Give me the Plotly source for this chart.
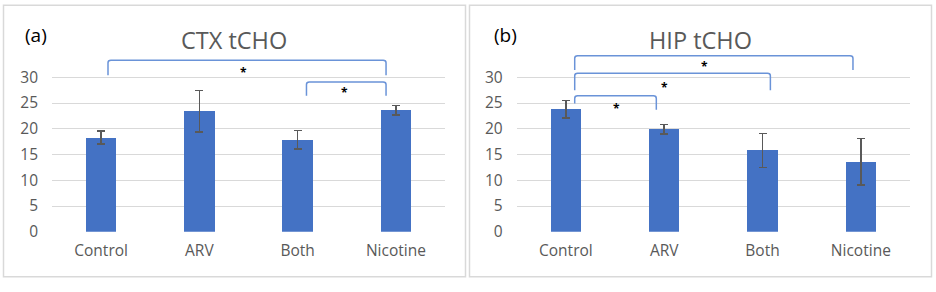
import plotly.graph_objects as go

# ---------------- data ----------------
categories = ["Control", "ARV", "Both", "Nicotine"]

ctx_values = [18.3, 23.4, 17.9, 23.6]
ctx_errors = [1.3, 4.0, 1.8, 0.9]

hip_values = [23.8, 19.9, 15.8, 13.6]
hip_errors = [1.7, 0.9, 3.3, 4.5]

y_ticks = [0, 5, 10, 15, 20, 25, 30]

# significance brackets (x in category-index units, y in data units)
ctx_br_x0 = [0.07, 2.09]
ctx_br_x1 = [2.90, 2.90]
ctx_br_top = [33.3, 29.1]
ctx_br_leg0 = [30.4, 26.4]
ctx_br_leg1 = [30.4, 26.4]
ctx_star_x = [1.45, 2.48]
ctx_star_y = [31.5, 27.6]

hip_br_x0 = [0.09, 0.09, 0.09]
hip_br_x1 = [2.92, 2.08, 0.92]
hip_br_top = [34.2, 30.8, 26.4]
hip_br_leg0 = [31.4, 27.5, 24.9]
hip_br_leg1 = [31.4, 27.5, 23.7]
hip_star_x = [1.41, 1.00, 0.52]
hip_star_y = [32.6, 28.5, 24.5]

# ---------------- style ----------------
FONT = "Open Sans"
BAR = "#4472C4"
GRID = "#D9D9D9"
TXT = "#595959"
BRK = "#6A93D8"

fig = go.Figure()
xpos = list(range(len(categories)))

fig.add_trace(go.Bar(x=xpos, y=ctx_values, width=0.31, marker=dict(color=BAR, line=dict(width=0)),
                     error_y=dict(type="data", array=ctx_errors, color="#595959", thickness=1.5, width=4),
                     xaxis="x", yaxis="y", showlegend=False))
fig.add_trace(go.Bar(x=xpos, y=hip_values, width=0.31, marker=dict(color=BAR, line=dict(width=0)),
                     error_y=dict(type="data", array=hip_errors, color="#595959", thickness=1.5, width=4),
                     xaxis="x2", yaxis="y2", showlegend=False))

yrange = [0, 36]
common_x = dict(range=[-0.5, 3.5], tickvals=xpos, ticktext=categories, showgrid=False, zeroline=False,
                showline=False, ticks="", tickfont=dict(family=FONT, size=15.5, color=TXT), ticklabelstandoff=8,
                fixedrange=True)
common_y = dict(range=yrange, tickvals=y_ticks, showgrid=True, gridcolor=GRID, gridwidth=1,
                zeroline=False, showline=False, ticks="",
                tickfont=dict(family=FONT, size=15.5, color=TXT), ticklabelstandoff=13, fixedrange=True)

W, H = 936, 292
fig.update_layout(
    width=W, height=H,
    margin=dict(l=0, r=0, t=0, b=0),
    paper_bgcolor="white", plot_bgcolor="white",
    bargap=0,
    xaxis=dict(domain=[52 / W, 445 / W], anchor="y", **common_x),
    yaxis=dict(domain=[1 - 240 / H, 1 - 48 / H], anchor="x", **common_y),
    xaxis2=dict(domain=[516.7 / W, 910 / W], anchor="y2", **common_x),
    yaxis2=dict(domain=[1 - 240 / H, 1 - 48 / H], anchor="x2", **common_y),
)

shapes = []
# panel borders
shapes.append(dict(type="rect", xref="paper", yref="paper", x0=3.5 / W, x1=465.5 / W,
                   y0=1 - 286.5 / H, y1=1 - 5.5 / H, line=dict(color=GRID, width=1.5)))
shapes.append(dict(type="rect", xref="paper", yref="paper", x0=469.5 / W, x1=931.5 / W,
                   y0=1 - 286.5 / H, y1=1 - 5.5 / H, line=dict(color=GRID, width=1.5)))


def bracket_path(x0, x1, top, l0, l1, rx=0.03, ry=0.5):
    return (f"M {x0},{l0} L {x0},{top - ry} Q {x0},{top} {x0 + rx},{top} "
            f"L {x1 - rx},{top} Q {x1},{top} {x1},{top - ry} L {x1},{l1}")


for x0, x1, t, l0, l1 in zip(ctx_br_x0, ctx_br_x1, ctx_br_top, ctx_br_leg0, ctx_br_leg1):
    shapes.append(dict(type="path", xref="x", yref="y", path=bracket_path(x0, x1, t, l0, l1),
                       line=dict(color=BRK, width=1.5)))
for x0, x1, t, l0, l1 in zip(hip_br_x0, hip_br_x1, hip_br_top, hip_br_leg0, hip_br_leg1):
    shapes.append(dict(type="path", xref="x2", yref="y2", path=bracket_path(x0, x1, t, l0, l1),
                       line=dict(color=BRK, width=1.5)))
fig.update_layout(shapes=shapes)

ann = []
star_font = dict(family=FONT, size=12, color="black")
for x, y in zip(ctx_star_x, ctx_star_y):
    ann.append(dict(x=x, y=y, xref="x", yref="y", text="<b>*</b>", showarrow=False,
                    yshift=-2.5, font=star_font))
for x, y in zip(hip_star_x, hip_star_y):
    ann.append(dict(x=x, y=y, xref="x2", yref="y2", text="<b>*</b>", showarrow=False,
                    yshift=-2.5, font=star_font))

ann.append(dict(x=234 / W, y=1 - 41 / H, xref="paper", yref="paper", text="CTX tCHO", showarrow=False,
                xanchor="center", yanchor="middle", font=dict(family=FONT, size=23.5, color=TXT)))
ann.append(dict(x=700 / W, y=1 - 41 / H, xref="paper", yref="paper", text="HIP tCHO", showarrow=False,
                xanchor="center", yanchor="middle", font=dict(family=FONT, size=23.5, color=TXT)))
ann.append(dict(x=36 / W, y=1 - 36 / H, xref="paper", yref="paper", text="(a)", showarrow=False,
                xanchor="center", yanchor="middle", font=dict(family=FONT, size=19, color="black")))
ann.append(dict(x=506 / W, y=1 - 36 / H, xref="paper", yref="paper", text="(b)", showarrow=False,
                xanchor="center", yanchor="middle", font=dict(family=FONT, size=19, color="black")))
fig.update_layout(annotations=ann)

post = (
    "var de=document.documentElement, b=document.body;"
    "de.style.margin='0';de.style.padding='0';de.style.overflow='hidden';de.style.height='292px';"
    "b.style.margin='0';b.style.padding='0';b.style.overflow='hidden';b.style.height='292px';"
    "b.style.lineHeight='0';"
)
fig.write_html("out.html", config={"displayModeBar": False, "staticPlot": True}, post_script=post)
